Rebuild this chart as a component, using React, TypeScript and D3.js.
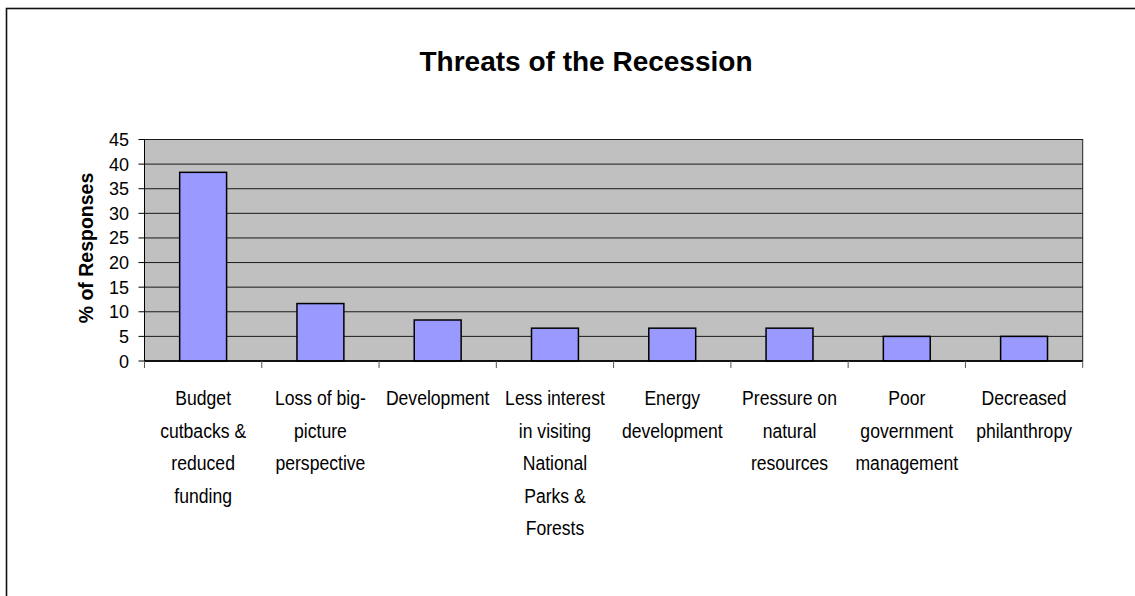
import React from "react";
import * as d3 from "d3";

// Share of responses naming each threat
const categories: string[][] = [
  ["Budget", "cutbacks &", "reduced", "funding"],
  ["Loss of big-", "picture", "perspective"],
  ["Development"],
  ["Less interest", "in visiting", "National", "Parks &", "Forests"],
  ["Energy", "development"],
  ["Pressure on", "natural", "resources"],
  ["Poor", "government", "management"],
  ["Decreased", "philanthropy"],
];
const values: number[] = [38.33, 11.67, 8.33, 6.67, 6.67, 6.67, 5, 5];
const yTicks: number[] = [0, 5, 10, 15, 20, 25, 30, 35, 40, 45];

const W = 1135;
const H = 596;
const plot = { left: 144.5, right: 1082.7, top: 139.5, bottom: 361 };
const FONT = "'Liberation Sans', Arial, Helvetica, sans-serif";

export default function App() {
  const keys = categories.map((_, i) => String(i));
  const x = d3
    .scaleBand<string>()
    .domain(keys)
    .range([plot.left, plot.right])
    .paddingInner(0.6)
    .paddingOuter(0.3);
  const y = d3.scaleLinear().domain([0, 45]).range([plot.bottom, plot.top]);
  const step = x.step();
  const boundaries = d3.range(categories.length + 1).map((i) => plot.left + i * step);

  return (
    <svg
      width={W}
      height={H}
      style={{ position: "absolute", left: 0, top: 0, background: "#fff" }}
      fontFamily={FONT}
    >
      {/* chart frame */}
      <rect x={6.5} y={8.5} width={W + 20} height={H + 20} fill="#fff" stroke="#111" strokeWidth={1.6} />

      <text x={586} y={71} textAnchor="middle" fontSize={28} fontWeight="bold" fill="#000">
        Threats of the Recession
      </text>

      {/* plot area */}
      <rect
        x={plot.left}
        y={plot.top}
        width={plot.right - plot.left}
        height={plot.bottom - plot.top}
        fill="#C0C0C0"
        stroke="#222"
        strokeWidth={1}
      />
      {yTicks.map((t) => (
        <line key={"g" + t} x1={plot.left} x2={plot.right} y1={y(t)} y2={y(t)} stroke="#1a1a1a" strokeWidth={1} />
      ))}

      {/* bars */}
      {values.map((v, i) => (
        <rect
          key={"b" + i}
          x={x(String(i))}
          y={y(v)}
          width={x.bandwidth()}
          height={y(0) - y(v)}
          fill="#9999FF"
          stroke="#000"
          strokeWidth={1.5}
        />
      ))}

      {/* y axis */}
      <line x1={plot.left} x2={plot.left} y1={plot.top} y2={plot.bottom} stroke="#000" strokeWidth={1} />
      {yTicks.map((t) => (
        <g key={"yt" + t}>
          <line x1={plot.left - 6} x2={plot.left} y1={y(t)} y2={y(t)} stroke="#000" strokeWidth={1} />
          <text x={129} y={y(t) + 6.5} textAnchor="end" fontSize={18} fill="#000">
            {t}
          </text>
        </g>
      ))}
      <text
        transform={`translate(93, 248) rotate(-90)`}
        textAnchor="middle"
        fontSize={19.5}
        fontWeight="bold"
        fill="#000"
      >
        % of Responses
      </text>

      {/* x axis */}
      <line x1={plot.left} x2={plot.right} y1={plot.bottom} y2={plot.bottom} stroke="#000" strokeWidth={1.5} />
      {boundaries.map((bx, i) => (
        <line key={"xt" + i} x1={bx} x2={bx} y1={plot.bottom} y2={plot.bottom + 7} stroke="#555" strokeWidth={1} />
      ))}
      {categories.map((lines, i) => {
        const cx = (x(String(i)) as number) + x.bandwidth() / 2;
        return (
          <g key={"c" + i}>
            {lines.map((ln, j) => (
              <text
                key={j}
                transform={`translate(${cx}, ${405 + j * 32.5}) scale(0.88, 1.05)`}
                textAnchor="middle"
                fontSize={20}
                fill="#000"
              >
                {ln}
              </text>
            ))}
          </g>
        );
      })}
    </svg>
  );
}
